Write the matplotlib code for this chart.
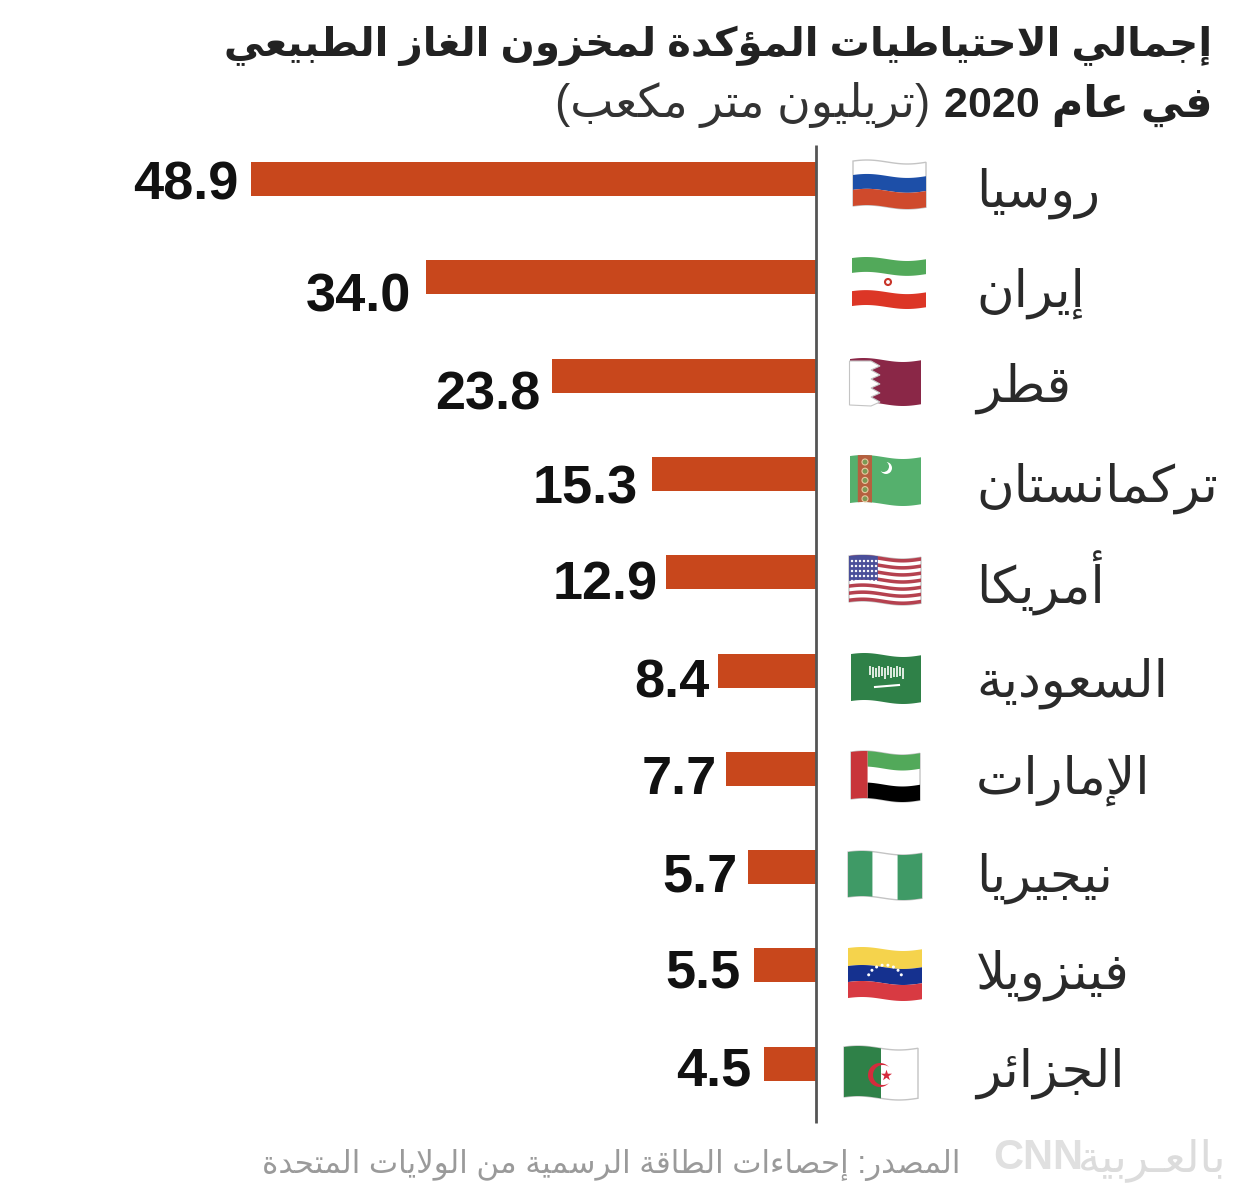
import re

import numpy as np
import matplotlib
matplotlib.use("Agg")
import matplotlib.pyplot as plt
from matplotlib.patches import Polygon, Circle, Rectangle

plt.rcParams['font.family'] = ['Liberation Sans', 'DejaVu Sans']

countries = ["روسيا", "إيران", "قطر", "تركمانستان", "أمريكا", "السعودية",
             "الإمارات", "نيجيريا", "فينزويلا", "الجزائر"]
value_labels = ["48.9", "34.0", "23.8", "15.3", "12.9", "8.4", "7.7", "5.7", "5.5", "4.5"]
# bar lengths as drawn in the picture, they do not follow the labels exactly
bar_lengths = [48.9, 33.8, 22.9, 14.2, 13.0, 8.5, 7.8, 5.9, 5.4, 4.5]

title_line1 = "إجمالي الاحتياطيات المؤكدة لمخزون الغاز الطبيعي"
title_bold = "في عام 2020"
title_unit = "(تريليون متر مكعب)"
source_text = "المصدر: إحصاءات الطاقة الرسمية من الولايات المتحدة"
logo_word = "بالعـربية"

W, H = 1241, 1203
BAR_COLOR = "#c8471c"

# matplotlib does no arabic shaping, so pick the presentation forms by hand
FORMS = {}
for ch, start, n in [("ء", 0xFE80, 1), ("آ", 0xFE81, 2), ("أ", 0xFE83, 2), ("ؤ", 0xFE85, 2),
                     ("إ", 0xFE87, 2), ("ئ", 0xFE89, 4), ("ا", 0xFE8D, 2), ("ب", 0xFE8F, 4),
                     ("ة", 0xFE93, 2), ("ت", 0xFE95, 4), ("ث", 0xFE99, 4), ("ج", 0xFE9D, 4),
                     ("ح", 0xFEA1, 4), ("خ", 0xFEA5, 4), ("د", 0xFEA9, 2), ("ذ", 0xFEAB, 2),
                     ("ر", 0xFEAD, 2), ("ز", 0xFEAF, 2), ("س", 0xFEB1, 4), ("ش", 0xFEB5, 4),
                     ("ص", 0xFEB9, 4), ("ض", 0xFEBD, 4), ("ط", 0xFEC1, 4), ("ظ", 0xFEC5, 4),
                     ("ع", 0xFEC9, 4), ("غ", 0xFECD, 4), ("ف", 0xFED1, 4), ("ق", 0xFED5, 4),
                     ("ك", 0xFED9, 4), ("ل", 0xFEDD, 4), ("م", 0xFEE1, 4), ("ن", 0xFEE5, 4),
                     ("ه", 0xFEE9, 4), ("و", 0xFEED, 2), ("ى", 0xFEEF, 2), ("ي", 0xFEF1, 4)]:
    FORMS[ch] = [start + k for k in range(n)]
LAM_ALEF = {"آ": 0xFEF5, "أ": 0xFEF7, "إ": 0xFEF9, "ا": 0xFEFB}
KASHIDA = "\u0640"


def dual(c):
    return c == KASHIDA or (c in FORMS and len(FORMS[c]) == 4)


def joins_right(c):
    return c == KASHIDA or (c in FORMS and len(FORMS[c]) >= 2)


def ar(text):
    out = []
    i = 0
    while i < len(text):
        c = text[i]
        prev = text[i - 1] if i > 0 else " "
        nxt = text[i + 1] if i + 1 < len(text) else " "
        if c == "ل" and nxt in LAM_ALEF:
            out.append(chr(LAM_ALEF[nxt] + (1 if dual(prev) else 0)))
            i += 2
            continue
        if c not in FORMS:
            out.append(c)
            i += 1
            continue
        f = FORMS[c]
        jp = dual(prev) and len(f) >= 2
        jn = len(f) == 4 and joins_right(nxt)
        if len(f) == 1:
            code = f[0]
        elif jp and jn:
            code = f[3]
        elif jp:
            code = f[1]
        elif jn:
            code = f[2]
        else:
            code = f[0]
        out.append(chr(code))
        i += 1
    vis = "".join(out)[::-1]
    vis = vis.translate(str.maketrans("()", ")("))
    # numbers keep their own direction
    return re.sub(r"\d+", lambda m: m.group(0)[::-1], vis)


def band(ax, box, u0, u1, v0, v1, color, z=3, amp=2.0, **kw):
    x0, x1, y0, y1 = box
    us = np.linspace(u0, u1, 30)
    wave = lambda u: -amp * np.sin(2 * np.pi * u * 0.9 + 0.5)
    top = [(x0 + u * (x1 - x0), y0 + amp + v0 * (y1 - y0 - 2 * amp) + wave(u)) for u in us]
    bot = [(x0 + u * (x1 - x0), y0 + amp + v1 * (y1 - y0 - 2 * amp) + wave(u)) for u in us[::-1]]
    ax.add_patch(Polygon(top + bot, closed=True, facecolor=color, edgecolor=kw.get("ec", "none"),
                         linewidth=kw.get("lw", 0), zorder=z))


def outline(ax, box):
    band(ax, box, 0, 1, 0, 1, "white", z=2, ec="#c4c4c4", lw=1)


def flag_russia(ax, b):
    outline(ax, b)
    band(ax, b, 0, 1, 0.31, 0.64, "#1d4fa8")
    band(ax, b, 0, 1, 0.64, 1, "#cf4a2c")


def flag_iran(ax, b):
    band(ax, b, 0, 1, 0, 0.31, "#52a95a")
    band(ax, b, 0, 1, 0.69, 1, "#dc3626")
    ax.add_patch(Circle(((b[0] + b[1]) / 2 - 1, (b[2] + b[3]) / 2 - 1), 3, fc="none", ec="#c8352a", lw=1.5, zorder=4))


def flag_qatar(ax, b):
    band(ax, b, 0, 1, 0, 1, "#8a2747")
    x0, x1, y0, y1 = b
    pts = [(x0 - 0.5, y0 + 3), (x0 + 21, y0 + 3)]
    for k in range(5):
        pts += [(x0 + 30, y0 + 8 + k * 9), (x0 + 21, y0 + 12 + k * 9)]
    pts += [(x0 - 0.5, y0 + 47)]
    ax.add_patch(Polygon(pts, closed=True, fc="white", ec="#c4c4c4", lw=0.8, zorder=4))


def flag_turkmenistan(ax, b):
    band(ax, b, 0, 1, 0, 1, "#55b06d")
    band(ax, b, 0.11, 0.31, 0, 1, "#b5603f", z=4)
    x0, x1, y0, y1 = b
    for k in range(5):
        ax.add_patch(Circle((x0 + 15, y0 + 7 + k * 9.2), 3, fc="#7a9a55", ec="#e8c7a0", lw=0.8, zorder=5))
    ax.add_patch(Circle((x0 + 36, y0 + 13), 6, fc="white", ec="none", zorder=5))
    ax.add_patch(Circle((x0 + 33.5, y0 + 11.5), 5.5, fc="#55b06d", ec="none", zorder=6))


def flag_usa(ax, b):
    outline(ax, b)
    for k in range(0, 13, 2):
        band(ax, b, 0, 1, k / 13, (k + 1) / 13, "#b5414f")
    band(ax, b, 0, 0.4, 0, 0.54, "#4a4f9a", z=4)
    x0, x1, y0, y1 = b
    for i in range(7):
        for j in range(5):
            ax.add_patch(Circle((x0 + 3 + i * 4, y0 + 6 + j * 5), 1.2, fc="white", ec="none", zorder=5))


def flag_saudi(ax, b):
    band(ax, b, 0, 1, 0, 1, "#2f8148")
    x0, x1, y0, y1 = b
    for k in range(12):
        ax.add_patch(Rectangle((x0 + 18 + k * 3, y0 + 13 + (k % 3)), 2, 9 + (k % 2) * 2, fc="#dbe9dd", ec="none", zorder=5))
    ax.plot([x0 + 24, x0 + 48], [y0 + 34, y0 + 32], color="white", lw=1.5, zorder=5)


def flag_uae(ax, b):
    outline(ax, b)
    band(ax, b, 0.24, 1, 0, 0.33, "#52a95a")
    band(ax, b, 0.24, 1, 0.67, 1, "#000000")
    band(ax, b, 0, 0.24, 0, 1, "#c8353a", z=4)


def flag_nigeria(ax, b):
    outline(ax, b)
    band(ax, b, 0, 0.33, 0, 1, "#3f9a66")
    band(ax, b, 0.67, 1, 0, 1, "#3f9a66")


def flag_venezuela(ax, b):
    band(ax, b, 0, 1, 0, 0.36, "#f5d34c")
    band(ax, b, 0, 1, 0.36, 0.68, "#15318f")
    band(ax, b, 0, 1, 0.68, 1, "#d83a42")
    cx, cy = (b[0] + b[1]) / 2, (b[2] + b[3]) / 2 + 8
    for a in np.linspace(155, 25, 8):
        ax.add_patch(Circle((cx + 18 * np.cos(np.radians(a)), cy - 17 * np.sin(np.radians(a))), 1.5, fc="white", ec="none", zorder=5))


def flag_algeria(ax, b):
    outline(ax, b)
    band(ax, b, 0, 0.5, 0, 1, "#2f8148")
    cx, cy = (b[0] + b[1]) / 2 - 1, (b[2] + b[3]) / 2 + 2
    # crescent opening to the right
    angs = np.radians(np.linspace(50, 310, 40))
    outer = [(cx + 12 * np.cos(a), cy + 12 * np.sin(a)) for a in angs]
    inner = [(cx + 3 + 10 * np.cos(a), cy + 10 * np.sin(a)) for a in angs[::-1]]
    ax.add_patch(Polygon(outer + inner, closed=True, fc="#d52b3c", ec="none", zorder=5))
    ax.scatter([cx + 6], [cy], marker="*", s=70, color="#d52b3c", linewidths=0, zorder=7)


flag_funcs = [flag_russia, flag_iran, flag_qatar, flag_turkmenistan, flag_usa,
              flag_saudi, flag_uae, flag_nigeria, flag_venezuela, flag_algeria]
flag_boxes = [(853, 926, 160, 209), (852, 926, 257, 309), (850, 921, 358, 406), (850, 921, 455, 506),
              (849, 921, 555, 605), (851, 921, 653, 704), (851, 920, 751, 802), (848, 922, 851, 900),
              (848, 922, 947, 1001), (844, 918, 1046, 1100)]
label_ys = [193, 293, 388, 488, 583, 683, 780, 878, 975, 1073]
value_ys = [185, 298, 395, 490, 586, 684, 780, 877, 973, 1071]
value_rights = [238, 411, 540, 638, 658, 710, 717, 738, 741, 751]

fig = plt.figure(figsize=(W / 100, H / 100), dpi=100, facecolor="white")

# bar axes, zero sits on the vertical line and the scale is 11.55 px per unit
scale = 11.55
step = 98.3
ax = fig.add_axes([0, 0, 1, 1])
ax.set_xlim(816 / scale, -(W - 816) / scale)
ax.set_ylim((H - 179) / step, -179 / step)
ax.axis("off")
ypos = np.arange(len(countries))
ax.barh(ypos, bar_lengths, height=34 / step, color=BAR_COLOR, zorder=2)

# overlay in pixel coordinates for the flags and the text
pa = fig.add_axes([0, 0, 1, 1], facecolor="none")
pa.set_xlim(0, W)
pa.set_ylim(H, 0)
pa.axis("off")
pa.plot([816, 816], [145, 1123], color="#555555", lw=2, zorder=5, solid_capstyle="butt")

for i in range(len(countries)):
    flag_funcs[i](pa, flag_boxes[i])
    pa.text(976, label_ys[i], ar(countries[i]), fontsize=37, color="#2a2a2a", ha="left", va="center")
    pa.text(value_rights[i], value_ys[i], value_labels[i], fontsize=39,
            fontweight="bold", color="#111111", ha="right", va="center")

pa.text(1212, 46, ar(title_line1), fontsize=29, fontweight="bold", color="#222222", ha="right", va="center")
pa.text(1212, 105, ar(title_bold), fontsize=31, fontweight="bold", color="#222222", ha="right", va="center")
pa.text(930, 105, ar(title_unit), fontsize=33, color="#333333", ha="right", va="center")
pa.text(960, 1165, ar(source_text), fontsize=22.3, color="#9a9a9a", ha="right", va="center")

# logo, pulled apart a little so the two parts do not sit on each other
pa.text(993, 1158, "CNN", fontsize=30, fontweight="bold", color="#e0e0e0", ha="left", va="center")
pa.text(1226, 1160, ar(logo_word), fontsize=32, color="#dcdcdc", ha="right", va="center")

fig.savefig("out.png", dpi=100, facecolor="white")
